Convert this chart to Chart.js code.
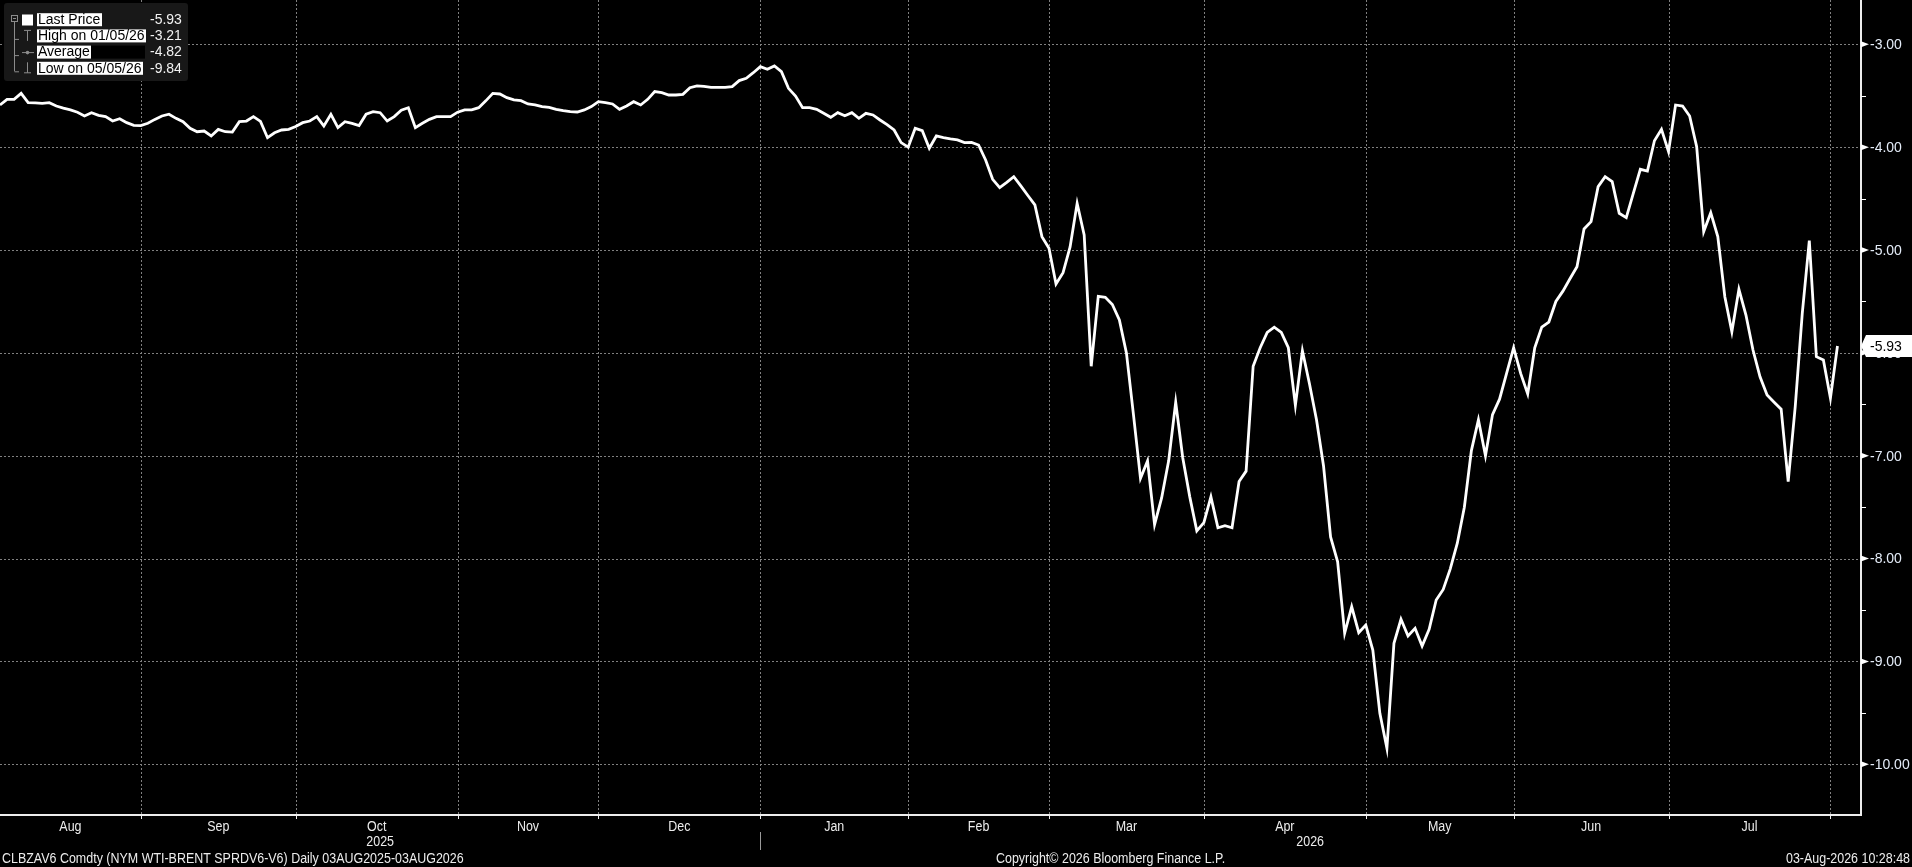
<!DOCTYPE html>
<html><head><meta charset="utf-8">
<script src="https://cdn.jsdelivr.net/npm/chart.js@4.4.1/dist/chart.umd.min.js"></script>
<style>
html,body{margin:0;padding:0;background:#000;overflow:hidden}
#wrap{position:relative;width:1912px;height:867px}
canvas{display:block}
</style>
</head><body><div id="wrap"><canvas id="c" width="1912" height="867"></canvas></div>
<script>
// ---- data: one value per trading day, grouped by month ----
const aug25=[-3.59,-3.535,-3.535,-3.477,-3.567,-3.57,-3.574,-3.567,-3.60,-3.62,-3.638,-3.66,-3.697,-3.665,-3.69,-3.703,-3.746,-3.723,-3.762,-3.788];
const sep25=[-3.79,-3.768,-3.73,-3.697,-3.68,-3.72,-3.752,-3.817,-3.85,-3.843,-3.891,-3.827,-3.85,-3.853,-3.752,-3.746,-3.703,-3.75,-3.908,-3.86,-3.833,-3.827];
const oct25=[-3.80,-3.762,-3.746,-3.703,-3.794,-3.68,-3.81,-3.752,-3.768,-3.79,-3.68,-3.655,-3.665,-3.746,-3.703,-3.64,-3.616,-3.81,-3.768,-3.73,-3.703,-3.703,-3.703];
const nov25=[-3.66,-3.638,-3.638,-3.616,-3.55,-3.477,-3.483,-3.519,-3.541,-3.548,-3.58,-3.59,-3.606,-3.613,-3.632,-3.645,-3.655,-3.658,-3.638,-3.606];
const dec25=[-3.558,-3.567,-3.58,-3.632,-3.6,-3.558,-3.59,-3.535,-3.46,-3.47,-3.493,-3.493,-3.486,-3.422,-3.405,-3.41,-3.418,-3.418,-3.418,-3.412,-3.353,-3.33,-3.276];
const jan26=[-3.217,-3.243,-3.21,-3.266,-3.428,-3.503,-3.616,-3.616,-3.632,-3.67,-3.71,-3.665,-3.694,-3.665,-3.72,-3.671,-3.687,-3.736,-3.78,-3.833,-3.956];
const feb26=[-4.0,-3.817,-3.84,-4.01,-3.891,-3.908,-3.92,-3.93,-3.956,-3.953,-3.979,-4.125,-4.313,-4.394,-4.342,-4.287,-4.377,-4.47,-4.562,-4.87];
const mar26=[-4.983,-5.33,-5.22,-4.97,-4.546,-4.853,-6.13,-5.45,-5.46,-5.53,-5.68,-6.0,-6.6,-7.22,-7.05,-7.67,-7.41,-7.05,-6.48,-7.02,-7.4,-7.73];
const apr26=[-7.65,-7.4,-7.7,-7.68,-7.7,-7.25,-7.15,-6.13,-5.95,-5.8,-5.75,-5.8,-5.95,-6.51,-5.98,-6.3,-6.65,-7.1,-7.79,-8.03,-8.726,-8.468,-8.72];
const may26=[-8.646,-8.889,-9.504,-9.844,-8.824,-8.59,-8.752,-8.678,-8.85,-8.687,-8.403,-8.3,-8.1,-7.85,-7.5,-6.95,-6.65,-7.0,-6.6,-6.45,-6.2];
const jun26=[-5.95,-6.2,-6.4,-5.95,-5.75,-5.7,-5.5,-5.4,-5.28,-5.162,-4.795,-4.724,-4.384,-4.287,-4.335,-4.643,-4.685,-4.449,-4.215,-4.232,-3.937,-3.827];
const jul26=[-4.044,-3.59,-3.6,-3.697,-3.995,-4.821,-4.637,-4.87,-5.454,-5.794,-5.382,-5.632,-5.972,-6.232,-6.41,-6.48,-6.548,-7.252,-6.523,-5.615,-4.909,-6.037,-6.069];
const aug26=[-6.44,-5.933];

const monthSeries=[aug25,sep25,oct25,nov25,dec25,jan26,feb26,mar26,apr26,may26,jun26,jul26,aug26];
const monthNames=['Aug','Sep','Oct','Nov','Dec','Jan','Feb','Mar','Apr','May','Jun','Jul',''];
const yearLabels=['2025','2026'];
const yearFirstMonth=[0,5];
const yTicks=[-3,-4,-5,-6,-7,-8,-9,-10];
const yMinor=[-3.5,-4.5,-5.5,-6.5,-7.5,-8.5,-9.5];
const legendLabels=['Last Price','High on 01/05/26','Average','Low on 05/05/26'];
const legendValues=['-5.93','-3.21','-4.82','-9.84'];
const footerLeft='CLBZAV6 Comdty (NYM WTI-BRENT SPRDV6-V6) Daily 03AUG2025-03AUG2026';
const footerMid='Copyright\u00A9 2026 Bloomberg Finance L.P.';
const footerRight='03-Aug-2026 10:28:48';

const allValues=[].concat(...monthSeries);
const monthStarts=[];{let s=0;for(const m of monthSeries){monthStarts.push(s);s+=m.length;}}
const points=allValues.map((v,i)=>({x:i,y:v}));
const lastValue=allValues[allValues.length-1];

const REG='"Liberation Sans",Arial,sans-serif';
const NARROW_SCALE=0.89;

function narrowText(ctx,text,x,y,align){
  ctx.save();
  ctx.translate(x,y);ctx.scale(NARROW_SCALE,1);
  ctx.textAlign=align;
  ctx.fillText(text,0,0);
  ctx.restore();
}

const decor={
  id:'decor',
  beforeDatasetsDraw(chart){
    const {ctx,chartArea:a,scales:{x,y}}=chart;
    ctx.save();
    ctx.strokeStyle='#808080';ctx.lineWidth=1;ctx.setLineDash([2,2]);
    for(const v of yTicks){
      const py=Math.round(y.getPixelForValue(v))+0.5;
      ctx.beginPath();ctx.moveTo(a.left,py);ctx.lineTo(a.right,py);ctx.stroke();
    }
    for(let m=1;m<monthStarts.length;m++){
      const px=Math.round(x.getPixelForValue(monthStarts[m]))+0.5;
      ctx.beginPath();ctx.moveTo(px,a.top);ctx.lineTo(px,a.bottom);ctx.stroke();
    }
    ctx.restore();
  },
  afterDatasetsDraw(chart){
    const {ctx,chartArea:a,scales:{x,y}}=chart;
    ctx.save();
    ctx.setLineDash([]);
    // axes
    ctx.fillStyle='#ededed';
    ctx.fillRect(a.right,a.top,2,a.bottom-a.top+1);
    ctx.fillRect(a.left,a.bottom-1,a.right-a.left+2,2);
    // y ticks
    ctx.fillStyle='#ffffff';
    for(const v of yTicks){
      const py=y.getPixelForValue(v);
      ctx.beginPath();ctx.moveTo(a.right+1,py-3);ctx.lineTo(a.right+9,py);ctx.lineTo(a.right+1,py+3);ctx.closePath();ctx.fill();
    }
    for(const v of yMinor){
      const py=Math.round(y.getPixelForValue(v));
      ctx.fillRect(a.right+1,py,5,1);
    }
    ctx.font='14px '+REG;ctx.textBaseline='middle';ctx.textAlign='left';
    ctx.fillStyle='#e4ecf8';
    for(const v of yTicks){
      ctx.fillText(v.toFixed(2),a.right+10,y.getPixelForValue(v)+1);
    }
    // last price tag
    const ly=Math.round(y.getPixelForValue(lastValue));
    ctx.fillStyle='#ffffff';
    ctx.beginPath();ctx.moveTo(a.right+1,ly);ctx.lineTo(a.right+6,ly-11);ctx.lineTo(chart.width,ly-11);ctx.lineTo(chart.width,ly+11);ctx.lineTo(a.right+6,ly+11);ctx.closePath();ctx.fill();
    ctx.fillStyle='#000';ctx.fillText(lastValue.toFixed(2),a.right+10,ly+1);
    // x ticks & labels
    ctx.fillStyle='#ededed';
    for(let m=1;m<monthStarts.length;m++){
      const px=Math.round(x.getPixelForValue(monthStarts[m]));
      ctx.fillRect(px,a.bottom,1,4);
    }
    ctx.font='14px '+REG;ctx.fillStyle='#ececec';
    for(let m=0;m<monthStarts.length-1;m++){
      const x0=Math.max(a.left,x.getPixelForValue(monthStarts[m]));
      const x1=x.getPixelForValue(monthStarts[m+1]);
      narrowText(ctx,monthNames[m],(x0+x1)/2,a.bottom+12,'center');
    }
    for(let k=0;k<yearLabels.length;k++){
      const x0=Math.max(a.left,x.getPixelForValue(monthStarts[yearFirstMonth[k]]));
      const x1=k+1<yearLabels.length?x.getPixelForValue(monthStarts[yearFirstMonth[k+1]]):a.right;
      narrowText(ctx,yearLabels[k],(x0+x1)/2,a.bottom+27,'center');
    }
    ctx.fillStyle='#9a9a9a';
    const sx=Math.round(x.getPixelForValue(monthStarts[yearFirstMonth[1]]));
    ctx.fillRect(sx,a.bottom+17,1,18);
    // footer
    ctx.fillStyle='#ececec';
    narrowText(ctx,footerLeft,2,a.bottom+44,'left');
    narrowText(ctx,footerMid,996,a.bottom+44,'left');
    narrowText(ctx,footerRight,chart.width-2,a.bottom+44,'right');
    // legend box
    ctx.fillStyle='#181818';
    ctx.beginPath();ctx.roundRect(4,3,184,78,3);ctx.fill();
    const rowY=r=>19.7+16.2*r;
    ctx.strokeStyle='#8c8c8c';ctx.lineWidth=1;
    ctx.strokeRect(11.5,15.5,6,6);
    ctx.beginPath();ctx.moveTo(13,18.5);ctx.lineTo(16,18.5);ctx.stroke();
    ctx.beginPath();ctx.moveTo(14.5,22);ctx.lineTo(14.5,rowY(3)+3);ctx.stroke();
    for(let r=1;r<4;r++){ctx.beginPath();ctx.moveTo(14.5,rowY(r)+3.5);ctx.lineTo(19,rowY(r)+3.5);ctx.stroke();}
    ctx.fillStyle='#ffffff';ctx.fillRect(22,14.5,11,11);
    ctx.beginPath();ctx.moveTo(24,rowY(1)-5.5);ctx.lineTo(31,rowY(1)-5.5);ctx.moveTo(27.5,rowY(1)-5.5);ctx.lineTo(27.5,rowY(1)+5);ctx.stroke();
    ctx.beginPath();ctx.moveTo(22,rowY(2)+0.5);ctx.lineTo(34,rowY(2)+0.5);ctx.stroke();
    ctx.fillStyle='#8c8c8c';ctx.beginPath();ctx.arc(27.5,rowY(2)+0.5,1.8,0,Math.PI*2);ctx.fill();
    ctx.beginPath();ctx.moveTo(27.5,rowY(3)-6);ctx.lineTo(27.5,rowY(3)+4.5);ctx.moveTo(24,rowY(3)+4.5);ctx.lineTo(31,rowY(3)+4.5);ctx.stroke();
    ctx.font='14px '+REG;ctx.textAlign='left';ctx.textBaseline='middle';
    for(let r=0;r<4;r++){
      const cy=rowY(r);
      const w=ctx.measureText(legendLabels[r]).width;
      if(r===2){ctx.fillStyle='#000';ctx.fillRect(37,cy-6.5,108,13);}
      ctx.fillStyle='#ffffff';ctx.fillRect(37,cy-6.5,Math.ceil(w)+2,13);
      ctx.fillStyle='#000';ctx.fillText(legendLabels[r],38,cy+0.5);
      ctx.fillStyle='#f2f2f2';ctx.fillText(legendValues[r],150,cy+0.5);
    }
    ctx.restore();
  }
};

new Chart(document.getElementById('c'),{
  type:'line',
  data:{datasets:[{data:points,borderColor:'#ffffff',borderWidth:2.8,pointRadius:0,tension:0,fill:false}]},
  options:{
    responsive:false,animation:false,devicePixelRatio:1,
    layout:{padding:{left:0,top:0,right:52,bottom:52}},
    scales:{
      x:{type:'linear',min:0,max:264.2,display:false},
      y:{type:'linear',min:-10.4929,max:-2.5693,display:false}
    },
    plugins:{legend:{display:false},tooltip:{enabled:false}}
  },
  plugins:[decor]
});
</script>
</body></html>
